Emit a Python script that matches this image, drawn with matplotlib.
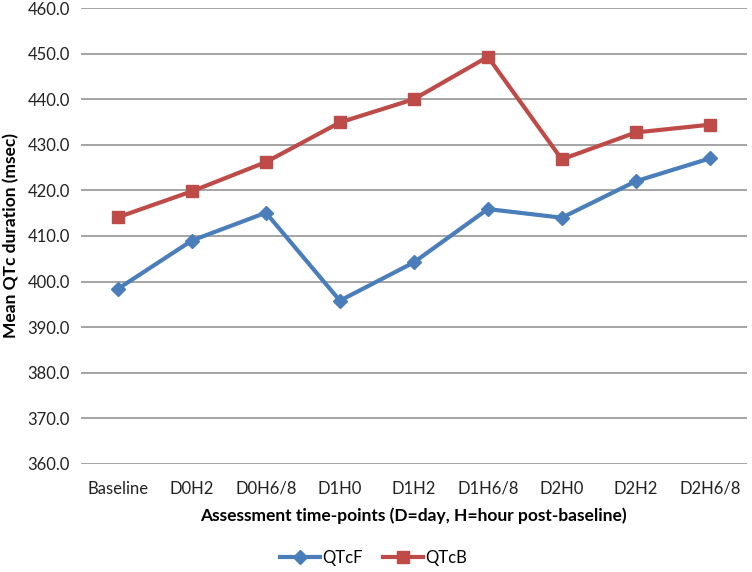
import matplotlib.pyplot as plt
import numpy as np

# data
timepoints = ["Baseline", "D0H2", "D0H6/8", "D1H0", "D1H2", "D1H6/8", "D2H0", "D2H2", "D2H6/8"]
qtcf = [398.4, 409.0, 415.1, 395.8, 404.2, 415.9, 414.0, 422.0, 427.0]
qtcb = [414.1, 419.8, 426.2, 434.9, 440.0, 449.3, 426.8, 432.7, 434.4]
yticks = np.arange(360, 461, 10)

plt.rcParams['font.family'] = ['Lato', 'DejaVu Sans']

fig = plt.figure(figsize=(7.52, 5.72), dpi=100)
ax = fig.add_axes([0.1077, 0.189, 0.8853, 0.797])

x = np.arange(len(timepoints))
ax.plot(x, qtcf, color='#4A7EBB', lw=3, marker='D', ms=7.5, label='QTcF')
ax.plot(x, qtcb, color='#BE4B48', lw=3, marker='s', ms=9, label='QTcB')

ax.set_xlim(-0.5, len(timepoints) - 0.5)
ax.set_ylim(360, 460)
ax.set_yticks(yticks)
ax.set_yticklabels(["{:.1f}".format(v) for v in yticks], fontsize=12, color='#222222')
ax.set_xticks(x)
ax.set_xticklabels(timepoints, fontsize=12, color='#222222')
ax.tick_params(axis='x', length=0, pad=12)
ax.tick_params(axis='y', length=0, pad=8)
ax.grid(axis='y', color='#8c8c8c', lw=1.1)
ax.set_axisbelow(True)
for s in ax.spines.values():
    s.set_visible(False)

ax.set_xlabel('Assessment time-points (D=day, H=hour post-baseline)', fontsize=12.5, fontweight='bold', labelpad=8)
ax.set_ylabel('Mean QTc duration (msec)', fontsize=12.5, fontweight='bold', labelpad=6)

ax.legend(loc='upper center', bbox_to_anchor=(0.44, -0.155), ncol=2, frameon=False,
          fontsize=12, handlelength=2.4, columnspacing=1.2, handletextpad=0.15)

fig.savefig('out.png', dpi=100)
